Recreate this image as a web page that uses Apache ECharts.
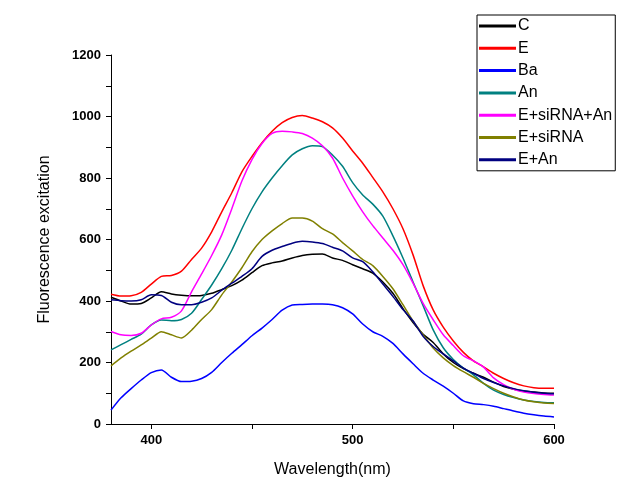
<!DOCTYPE html>
<html>
<head>
<meta charset="utf-8">
<script src="https://cdn.jsdelivr.net/npm/echarts@6/dist/echarts.min.js"></script>
<style>
html,body{margin:0;padding:0;background:#fff;}
#chart{width:635px;height:497px;}
</style>
</head>
<body>
<div id="chart"></div>
<script>
const wavelengths = [380,385,390,395,400,405,410,415,420,425,430,435,440,445,450,455,460,465,470,475,480,485,490,495,500,505,510,515,520,525,530,535,540,545,550,555,560,565,570,575,580,585,590,595,600];
const seriesNames = ["C","E","Ba","An","E+siRNA+An","E+siRNA","E+An"];
const valC = [412,400,390,392,410,430,423,419,417,418,425,437,450,468,492,515,524,530,540,548,552,553,540,532,518,505,491,462,425,375,330,292,265,228,200,180,165,152,136,122,113,107,104,101,100];
const valE = [422,416,417,428,455,480,483,497,535,572,625,690,752,820,870,915,952,980,997,1003,995,983,963,930,888,848,802,755,700,635,550,450,371,315,270,233,205,186,165,148,134,124,118,116,116];
const valBa = [45,85,115,143,167,176,152,138,139,148,168,200,230,258,287,312,340,370,387,389,390,390,388,378,358,325,300,285,262,228,196,165,143,123,100,75,66,63,58,50,42,35,30,26,23];
const valAn = [241,258,275,292,322,338,336,340,360,405,452,505,565,635,700,755,800,840,875,895,905,902,875,838,785,745,715,676,612,540,462,385,306,248,210,182,160,132,110,96,86,78,73,70,69];
const valESiAn = [301,290,288,295,322,342,347,368,430,488,548,615,700,790,860,912,945,952,950,945,930,905,865,800,742,690,645,605,565,518,458,392,339,290,255,222,205,185,150,128,113,104,99,96,94];
const valESi = [189,215,237,257,279,300,290,280,305,340,372,420,462,508,560,600,628,652,670,670,660,635,618,590,563,535,515,480,440,388,335,290,247,215,190,170,152,132,115,100,88,78,72,68,67];
const valEAn = [404,401,400,404,420,418,396,388,388,396,410,435,458,480,505,545,565,577,588,594,592,587,575,563,540,528,495,455,415,372,335,285,252,228,205,182,165,148,135,124,115,108,103,100,98];
const xTicks = [400,450,500,550,600];
const xLabels = [400,500,600];
const colors = ["#000000","#ff0000","#0000ff","#008080","#ff00ff","#808000","#000080"];
const allValues = [valC,valE,valBa,valAn,valESiAn,valESi,valEAn];

const font = '"Liberation Sans", Arial, sans-serif';
const chart = echarts.init(document.getElementById('chart'), null, {renderer:'canvas'});
chart.setOption({
  animation:false,
  backgroundColor:'#fff',
  color: colors,
  grid:{left:111,right:81,top:55,bottom:73,containLabel:false},
  legend:{
    orient:'vertical', left:477, top:15,
    padding:[3,3,3,2],
    borderColor:'#000', borderWidth:1,
    itemWidth:37, itemHeight:3, itemGap:6.3,
    icon:'rect',
    textStyle:{fontFamily:font,fontSize:16,color:'#000',lineHeight:16,padding:[0,0,0,-3]},
    data: seriesNames
  },
  xAxis:{
    type:'value', min:380, max:600,
    name:'Wavelength(nm)', nameLocation:'middle', nameGap:38,
    nameTextStyle:{fontFamily:font,fontSize:16,color:'#000'},
    axisLine:{show:true,onZero:false,lineStyle:{color:'#000',width:1}},
    axisTick:{show:true,length:5,inside:false,lineStyle:{color:'#000'},customValues:xTicks},
    axisLabel:{fontFamily:font,fontSize:13,fontWeight:'bold',color:'#000',margin:10,customValues:xLabels},
    splitLine:{show:false}
  },
  yAxis:{
    type:'value', min:0, max:1200, interval:200,
    name:'Fluorescence excitation', nameLocation:'middle', nameGap:58, nameRotate:90,
    nameTextStyle:{fontFamily:font,fontSize:16,color:'#000'},
    axisLine:{show:true,lineStyle:{color:'#000',width:1}},
    axisTick:{show:true,length:5,lineStyle:{color:'#000'}},
    minorTick:{show:true,splitNumber:2,length:5,lineStyle:{color:'#000'}},
    axisLabel:{fontFamily:font,fontSize:13,fontWeight:'bold',color:'#000',margin:10,formatter:(v)=>String(v)},
    splitLine:{show:false}
  },
  series: seriesNames.map((n,i)=>({
    name:n, type:'line', showSymbol:false, smooth:0.25,
    lineStyle:{width:1.5,color:colors[i]},
    itemStyle:{color:colors[i]},
    data: wavelengths.map((w,j)=>[w, allValues[i][j]])
  }))
});
</script>
</body>
</html>
